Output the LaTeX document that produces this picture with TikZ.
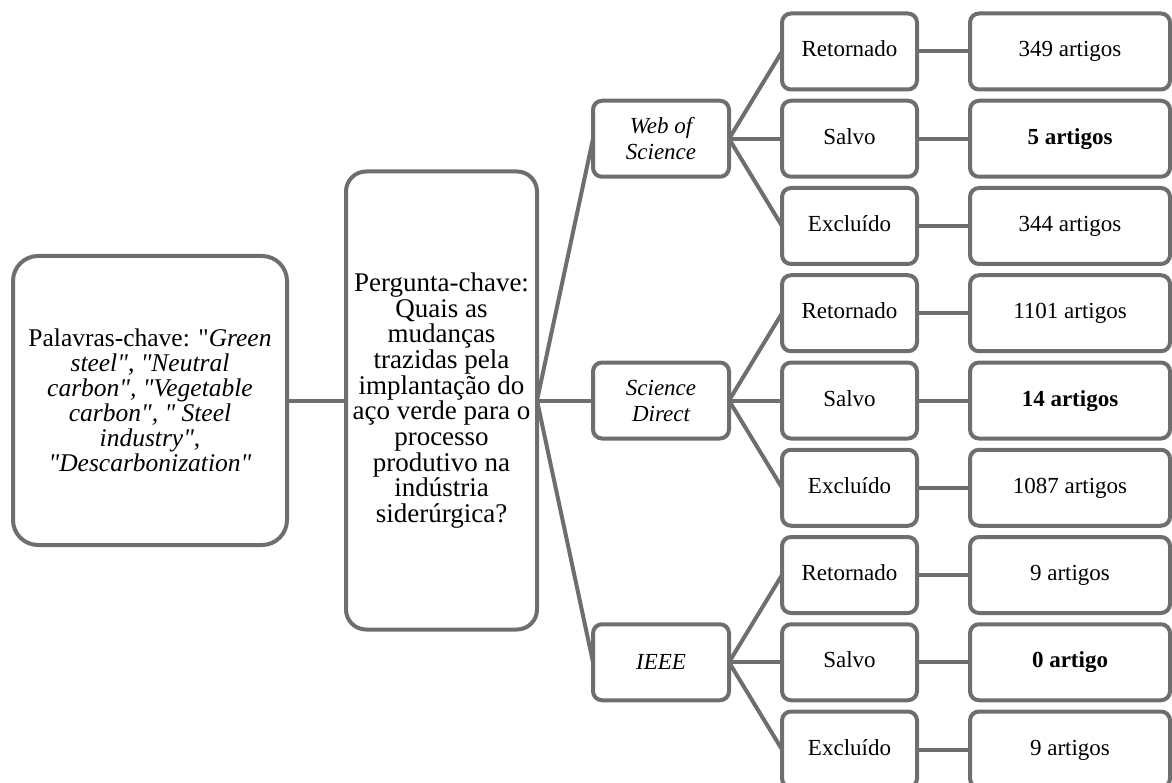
\documentclass[tikz,border=0pt]{standalone}
\usepackage{fontspec}
\setmainfont{Liberation Serif}
\usetikzlibrary{positioning}
\definecolor{edge}{HTML}{6E6E6E}
\newcommand{\qd}{\textquotedbl}

\begin{document}
\begin{tikzpicture}[
  x=1pt, y=-1pt,
  box/.style={draw=edge,line width=4pt,fill=white,align=center,inner sep=2pt,outer sep=0pt,rounded corners=9pt,font=\fontsize{23}{26}\selectfont},
  stage/.style={box,minimum width=135pt,minimum height=76pt,text height=16pt,text depth=5pt},
  count/.style={box,minimum width=200pt,minimum height=76pt,text height=16pt,text depth=5pt},
  db/.style={box,minimum width=136pt,minimum height=76pt,font=\fontsize{23}{26}\selectfont\itshape},
  ln/.style={edge,line width=4pt},
]
\useasboundingbox (0,0) rectangle (1172,783);

% third column: result types
\node[stage] (wr) at (849.5,51.5) {Retornado};
\node[stage,below=11.25pt of wr] (ws) {Salvo};
\node[stage,below=11.25pt of ws] (we) {Excluído};
\node[stage,below=11.25pt of we] (sr) {Retornado};
\node[stage,below=11.25pt of sr] (ss) {Salvo};
\node[stage,below=11.25pt of ss] (se) {Excluído};
\node[stage,below=11.25pt of se] (ir) {Retornado};
\node[stage,below=11.25pt of ir] (is) {Salvo};
\node[stage,below=11.25pt of is] (ie) {Excluído};

% last column: counts
\node[count,right=53pt of wr] (wrn) {349 artigos};
\node[count,right=53pt of ws] (wsn) {\textbf{5 artigos}};
\node[count,right=53pt of we] (wen) {344 artigos};
\node[count,right=53pt of sr] (srn) {1101 artigos};
\node[count,right=53pt of ss] (ssn) {\textbf{14 artigos}};
\node[count,right=53pt of se] (sen) {1087 artigos};
\node[count,right=53pt of ir] (irn) {9 artigos};
\node[count,right=53pt of is] (isn) {\textbf{0 artigo}};
\node[count,right=53pt of ie] (ien) {9 artigos};

% databases
\node[db,left=53pt of ws] (wos) {Web of\\Science};
\node[db,left=53pt of ss] (sd) {Science\\Direct};
\node[db,left=53pt of is] (ieee) {IEEE};

% question and keywords
\node[box,left=56pt of sd,minimum width=191pt,minimum height=458pt,rounded corners=20pt,
  font=\fontsize{27}{25.7}\selectfont] (key)
  {Pergunta-chave:\\Quais as\\mudanças\\trazidas pela\\implantação do\\aço verde para o\\processo\\produtivo na\\indústria\\siderúrgica?};
\node[box,left=59pt of key,minimum width=274pt,minimum height=289pt,rounded corners=25pt,
  font=\fontsize{25.5}{25}\selectfont] (kw)
  {Palavras-chave: \qd\textit{Green}\\\textit{steel\qd, \qd Neutral}\\\textit{carbon\qd, \qd Vegetable}\\\textit{carbon\qd, \qd\ Steel}\\\textit{industry\qd,}\\\textit{\qd Descarbonization\qd}};

\draw[ln] (kw) -- (key);
\draw[ln] (key.east) -- (wos.west);
\draw[ln] (key.east) -- (sd.west);
\draw[ln] (key.east) -- (ieee.west);
\draw[ln] (wos.east) -- (wr.west);
\draw[ln] (wos.east) -- (ws.west);
\draw[ln] (wos.east) -- (we.west);
\draw[ln] (sd.east) -- (sr.west);
\draw[ln] (sd.east) -- (ss.west);
\draw[ln] (sd.east) -- (se.west);
\draw[ln] (ieee.east) -- (ir.west);
\draw[ln] (ieee.east) -- (is.west);
\draw[ln] (ieee.east) -- (ie.west);
\draw[ln] (wr) -- (wrn);
\draw[ln] (ws) -- (wsn);
\draw[ln] (we) -- (wen);
\draw[ln] (sr) -- (srn);
\draw[ln] (ss) -- (ssn);
\draw[ln] (se) -- (sen);
\draw[ln] (ir) -- (irn);
\draw[ln] (is) -- (isn);
\draw[ln] (ie) -- (ien);
\end{tikzpicture}
\end{document}
